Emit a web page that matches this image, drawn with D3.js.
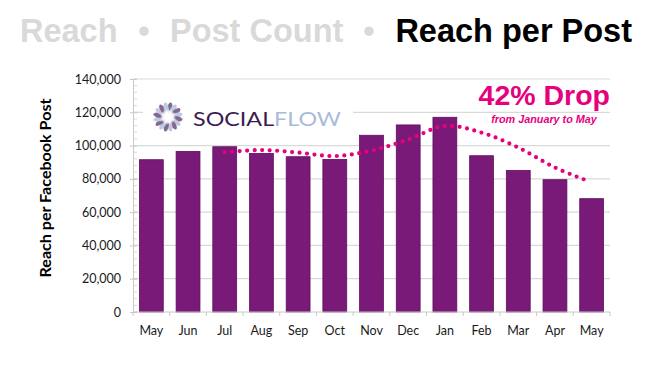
<!DOCTYPE html>
<html>
<head>
<meta charset="utf-8">
<script src="https://cdn.jsdelivr.net/npm/d3@7/dist/d3.min.js"></script>
<style>
  html, body { margin: 0; padding: 0; background: #fff; }
  svg { display: block; }
</style>
</head>
<body>
<svg id="chart" width="652" height="367"></svg>
<script>
// ---- data ----
const months = ["May","Jun","Jul","Aug","Sep","Oct","Nov","Dec","Jan","Feb","Mar","Apr","May"];
const reachPerPost = [91500, 96500, 99300, 95300, 93300, 91700, 106200, 112400, 117000, 93900, 85100, 79500, 68100];
const yTicks = [0, 20000, 40000, 60000, 80000, 100000, 120000, 140000];
// dotted trend: position in month-index units, value
const trendPos = [2, 3, 4, 5, 6, 7, 8, 9, 10, 11, 11.8];
const trendVals = [96000, 97300, 95800, 93700, 97000, 103600, 111800, 107800, 98800, 86800, 79600];
const titleParts = ["Reach", "Post Count", "Reach per Post"];
const yTitle = "Reach per Facebook Post";
const callout = "42% Drop";
const calloutSub = "from January to May";

// ---- layout ----
const svg = d3.select("#chart");
const pLeft = 133, pRight = 610, pTop = 79, pBottom = 312;
const grid = "#d9d9d9";
const barFill = "#7a1a78";
const pink = "#e6007e";

const x = d3.scaleBand().domain(d3.range(months.length)).range([pLeft, pRight])
  .paddingInner(0.35).paddingOuter(0.175);
const xc = d3.scaleLinear().domain([-0.5, months.length - 0.5]).range([pLeft, pRight]);
const y = d3.scaleLinear().domain([0, 140000]).range([pBottom, pTop]);

// title
const tf = "'Liberation Sans', Arial, Helvetica, sans-serif";
const title = svg.append("g").attr("font-family", tf).attr("font-weight", "bold").attr("font-size", 32.5);
title.append("text").attr("x", 20).attr("y", 42).attr("fill", "#d9d9d9").text(titleParts[0]);
title.append("text").attr("x", 144).attr("y", 42).attr("text-anchor", "middle").attr("fill", "#d9d9d9").text("•");
title.append("text").attr("x", 170).attr("y", 42).attr("fill", "#d9d9d9").text(titleParts[1]);
title.append("text").attr("x", 369).attr("y", 42).attr("text-anchor", "middle").attr("fill", "#d9d9d9").text("•");
title.append("text").attr("x", 632).attr("y", 42).attr("text-anchor", "end").attr("fill", "#000").text(titleParts[2]);

// gridlines
svg.append("g").selectAll("line").data(yTicks.filter(d => d > 0)).join("line")
  .attr("x1", pLeft).attr("x2", pRight)
  .attr("y1", d => y(d)).attr("y2", d => y(d))
  .attr("stroke", grid).attr("stroke-width", 1.2);

// y axis
const yAxis = svg.append("g").attr("transform", `translate(${pLeft},0)`)
  .call(d3.axisLeft(y).tickValues(yTicks).tickSize(3).tickPadding(9).tickFormat(d3.format(",")));
yAxis.select(".domain").attr("stroke", "#c8c8c8");
yAxis.selectAll(".tick line").attr("stroke", "#c8c8c8").attr("x2", 4).attr("x1", -3);
yAxis.selectAll("text").attr("font-family", "Lato, 'Open Sans', sans-serif").attr("font-size", 12.5).attr("fill", "#1a1a1a");
// minor ticks
svg.append("g").selectAll("line").data(d3.range(0, 140001, 4000)).join("line")
  .attr("x1", pLeft).attr("x2", pLeft + 4)
  .attr("y1", d => y(d)).attr("y2", d => y(d))
  .attr("stroke", "#d0d0d0").attr("stroke-width", 0.8);

// logo
const logo = svg.append("g");
logo.append("rect").attr("x", 143).attr("y", 95).attr("width", 210).attr("height", 40).attr("fill", "#fff");
const cx = 168, cy = 117;
const petals = d3.range(16);
logo.selectAll("ellipse").data(petals).join("ellipse")
  .attr("cx", 0).attr("cy", -9).attr("rx", 2.5).attr("ry", 5.8)
  .attr("fill", d => d % 2 ? "#bccbe2" : "#86678f")
  .attr("transform", d => `translate(${cx},${cy}) rotate(${d * 22.5 + 11})`);
const grad = svg.append("defs").append("radialGradient").attr("id", "glow");
grad.append("stop").attr("offset", "0%").attr("stop-color", "#fff").attr("stop-opacity", 1);
grad.append("stop").attr("offset", "65%").attr("stop-color", "#fff").attr("stop-opacity", 0.9);
grad.append("stop").attr("offset", "100%").attr("stop-color", "#fff").attr("stop-opacity", 0);
logo.append("circle").attr("cx", cx).attr("cy", cy).attr("r", 8).attr("fill", "url(#glow)");
const lt = logo.append("text").attr("x", 193).attr("y", 125.5)
  .attr("font-family", "Lato, 'Open Sans', sans-serif").attr("font-size", 19.5)
  .attr("textLength", 148).attr("lengthAdjust", "spacingAndGlyphs");
lt.append("tspan").attr("fill", "#3d1a4f").text("SOCIAL");
lt.append("tspan").attr("fill", "#a8bbd8").text("FLOW");

// bars
svg.append("g").selectAll("rect").data(reachPerPost).join("rect")
  .attr("x", (d, i) => x(i)).attr("width", x.bandwidth())
  .attr("y", d => y(d)).attr("height", d => y(0) - y(d))
  .attr("fill", barFill).attr("stroke", "#5e0f5c").attr("stroke-width", 0.8);

// x axis
const xAxis = svg.append("g");
xAxis.append("line").attr("x1", pLeft).attr("x2", pRight).attr("y1", pBottom).attr("y2", pBottom).attr("stroke", "#c8c8c8");
xAxis.selectAll(".tk").data(d3.range(months.length + 1)).join("line").attr("class", "tk")
  .attr("x1", d => xc(d - 0.5)).attr("x2", d => xc(d - 0.5))
  .attr("y1", pBottom).attr("y2", pBottom + 4).attr("stroke", "#c8c8c8");
xAxis.selectAll("text").data(months).join("text")
  .attr("x", (d, i) => xc(i)).attr("y", 335).attr("text-anchor", "middle")
  .attr("font-family", "Lato, 'Open Sans', sans-serif").attr("font-size", 12.5).attr("fill", "#1a1a1a")
  .text(d => d);

// y title
svg.append("text").attr("transform", "translate(51,188) rotate(-90)")
  .attr("text-anchor", "middle").attr("font-family", "Lato, 'Open Sans', sans-serif")
  .attr("font-weight", "bold").attr("font-size", 14.5).attr("fill", "#000")
  .attr("textLength", 179).attr("lengthAdjust", "spacingAndGlyphs").text(yTitle);

// trend
const trend = trendPos.map((p, i) => [p, trendVals[i]]);
svg.append("path").datum(trend)
  .attr("d", d3.line().x(d => xc(d[0])).y(d => y(d[1])).curve(d3.curveCatmullRom.alpha(0.5)))
  .attr("fill", "none").attr("stroke", pink).attr("stroke-width", 4.2)
  .attr("stroke-linecap", "round").attr("stroke-dasharray", "0 7.5");

// callout
svg.append("text").attr("x", 610).attr("y", 105).attr("text-anchor", "end")
  .attr("font-family", tf).attr("font-weight", "bold").attr("font-size", 28.5).attr("fill", pink).text(callout);
svg.append("text").attr("x", 544).attr("y", 123).attr("text-anchor", "middle")
  .attr("font-family", tf).attr("font-weight", "bold").attr("font-style", "italic")
  .attr("font-size", 10.8).attr("fill", pink).text(calloutSub);
</script>
</body>
</html>
